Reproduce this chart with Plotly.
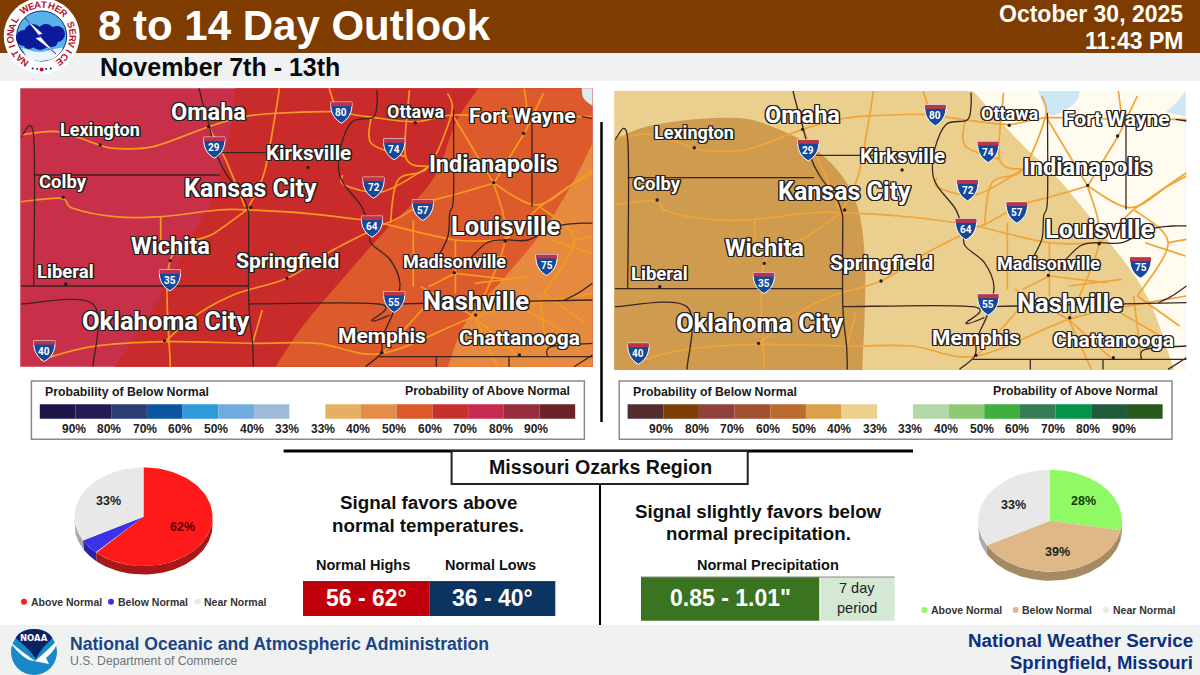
import math
import plotly.graph_objects as go

# ---------- data ----------
TITLE = "8 to 14 Day Outlook"
SUBTITLE = "November 7th - 13th"
DATE_LINES = ["October 30, 2025", "11:43 PM"]
PIE_LABELS = ["Above Normal", "Below Normal", "Near Normal"]
TEMP_SHARES = [62, 5, 33]
PRECIP_SHARES = [28, 39, 33]
SCALE_TICKS = ["90%", "80%", "70%", "60%", "50%", "40%", "33%", "33%", "40%", "50%", "60%", "70%", "80%", "90%"]
TEMP_SCALE = ["#1c1648", "#241a55", "#2b3d73", "#0a56a0", "#319ad8", "#6fabdd", "#9dbcdc", "#ffffff",
              "#e5b063", "#e48c49", "#dd5a2d", "#c8302e", "#c92a50", "#972e3c", "#6b2228"]
PRECIP_SCALE = ["#532c2e", "#7d3f05", "#92403c", "#a15030", "#bb6a30", "#d9a24a", "#ecd08c", "#ffffff",
                "#b3d7a6", "#8ec975", "#3fae3c", "#357c55", "#05924b", "#1f5a3a", "#27591c"]
HIGHS = "56 - 62°"
LOWS = "36 - 40°"
PRECIP = '0.85 - 1.01"'

FONT = "Liberation Sans"
shapes, notes = [], []
fig = go.Figure()


def X3(z): return z / 2.613
def Y3(z): return 80 + z / 3


def text(x, y, s, size, color="#111", bold=True, anchor="center", family=FONT, angle=0, shadow=None):
    f = dict(family=family, size=size, color=color, weight=700 if bold else 400)
    if shadow:
        f["shadow"] = shadow
    notes.append(dict(x=x, y=y, xref="x", yref="y", text=s, showarrow=False, xanchor=anchor,
                      yanchor="middle", font=f, textangle=angle, borderpad=0, borderwidth=0))


def rect(x0, y0, x1, y1, fill=None, line=None, w=1):
    shapes.append(dict(type="rect", x0=x0, y0=y0, x1=x1, y1=y1, xref="x", yref="y",
                       fillcolor=fill or "rgba(0,0,0,0)", line=dict(color=line or "rgba(0,0,0,0)", width=w if line else 0)))


def line(x0, y0, x1, y1, color="#000", w=2):
    shapes.append(dict(type="line", x0=x0, y0=y0, x1=x1, y1=y1, xref="x", yref="y", line=dict(color=color, width=w)))


def circle(cx, cy, r, fill, ln=None, w=1):
    rx = r
    shapes.append(dict(type="circle", x0=cx - rx, x1=cx + rx, y0=cy - r, y1=cy + r, xref="x", yref="y",
                       fillcolor=fill, line=dict(color=ln or "rgba(0,0,0,0)", width=w if ln else 0)))


def path(d, fill=None, ln=None, w=1):
    shapes.append(dict(type="path", path=d, xref="x", yref="y", fillcolor=fill or "rgba(0,0,0,0)",
                       line=dict(color=ln or "rgba(0,0,0,0)", width=w if ln else 0)))


def smooth(pts, start=True):
    d = f"M{pts[0][0]:.1f},{pts[0][1]:.1f}" if start else f"L{pts[0][0]:.1f},{pts[0][1]:.1f}"
    n = len(pts)
    for i in range(n - 1):
        p0, p1, p2, p3 = pts[max(i - 1, 0)], pts[i], pts[i + 1], pts[min(i + 2, n - 1)]
        c1 = (p1[0] + (p2[0] - p0[0]) / 6, p1[1] + (p2[1] - p0[1]) / 6)
        c2 = (p2[0] - (p3[0] - p1[0]) / 6, p2[1] - (p3[1] - p1[1]) / 6)
        d += f"C{c1[0]:.1f},{c1[1]:.1f} {c2[0]:.1f},{c2[1]:.1f} {p2[0]:.1f},{p2[1]:.1f}"
    return d


# ---------- page frame ----------
rect(0, 53, 1200, 81, "#f0f1f2")
rect(0, 0, 1200, 53, "#7e3c00")
rect(0, 625, 1200, 675, "#f0f2f2")

# ---------- map features (shared by both panels) ----------
BORDERS = [
    [(55, 170), (88, 170), (88, 618)], [(88, 285), (575, 285)], [(55, 618), (650, 618)],
    [(650, 400), (650, 672), (660, 790), (662, 860)], [(650, 672), (990, 672), (972, 722), (1020, 705)],
    [(55, 672), (243, 672), (243, 860)], [(520, 25), (530, 70), (545, 130), (565, 220), (590, 280), (635, 350), (650, 400)],
    [(580, 218), (885, 218)],
    [(985, 30), (985, 70), (975, 112), (920, 125), (890, 200), (885, 270), (900, 315), (945, 380), (965, 450),
     (970, 490), (1020, 540), (1045, 610), (1030, 690), (1000, 770), (995, 820), (955, 860)],
    [(1185, 90), (1185, 350), (1175, 400), (1170, 470), (1140, 540)],
    [(1140, 540), (1200, 560), (1270, 490), (1320, 480), (1380, 480), (1450, 440), (1510, 430), (1548, 430)],
    [(1390, 120), (1390, 380)], [(1030, 672), (1300, 665), (1548, 660)],
    [(990, 830), (1548, 830)], [(1140, 830), (1140, 860)], [(1330, 830), (1330, 860)],
    [(1475, 660), (1510, 640), (1548, 610)], [(1430, 830), (1440, 800), (1548, 790)], [(1500, 860), (1548, 825)],
    [(1520, 110), (1548, 115)],
]
ROADS = [
    [(55, 165), (150, 155), (260, 195), (300, 205), (400, 200), (545, 140), (640, 110), (720, 100), (860, 95),
     (960, 110), (1085, 125), (1185, 105), (1380, 110), (1548, 110)],
    [(55, 365), (160, 355), (190, 385), (300, 410), (420, 410), (570, 390), (650, 390), (800, 400), (950, 420),
     (1010, 430), (1110, 370), (1200, 340), (1290, 310)],
    [(1290, 310), (1400, 375), (1500, 310), (1548, 280)],
    [(650, 385), (560, 460), (445, 540), (445, 860)], [(420, 410), (420, 480)],
    [(105, 840), (240, 800), (430, 785), (660, 790), (830, 790), (1000, 820), (1240, 710), (1400, 670), (1548, 640)],
    [(990, 440), (870, 510), (750, 595), (620, 640), (520, 700), (430, 785)],
    [(1080, 420), (1080, 620)], [(1170, 40), (1180, 100), (1120, 260), (1040, 300), (1020, 430)],
    [(545, 140), (590, 240), (640, 380)], [(1290, 310), (1320, 480), (1240, 710)], [(1370, 160), (1290, 310)],
    [(1410, 380), (1320, 480)], [(730, 25), (720, 100), (690, 280), (650, 380)],
    [(1000, 430), (1190, 480), (1320, 480)], [(1190, 580), (1120, 620)], [(1190, 580), (1340, 600)],
    [(1410, 380), (1500, 480), (1420, 640)], [(1370, 160), (1420, 40)], [(1180, 100), (1290, 310)],
    [(1070, 30), (1060, 230), (1120, 260)], [(970, 110), (970, 190), (1060, 230)],
    [(1410, 380), (1548, 270)], [(1240, 710), (1350, 825)], [(1410, 640), (1430, 830)],
    [(1000, 820), (1110, 680)], [(660, 790), (685, 690)], [(895, 285), (900, 315), (1000, 335), (1120, 260)],
    [(1190, 480), (1190, 640)], [(1090, 540), (1320, 530)],
    [(1500, 480), (1548, 470)], [(1240, 710), (1300, 860)], [(1420, 640), (1530, 730)], [(1240, 610), (1380, 590)],
    [(860, 25), (880, 95)], [(1370, 25), (1380, 110)], [(1100, 620), (1240, 710)], [(1300, 640), (1480, 760)],
    [(1440, 480), (1545, 520)],
]
DOTS = [(545, 140), (262, 195), (1085, 128), (1368, 160), (805, 262), (1290, 308), (165, 352), (655, 382), (1320, 483),
        (445, 542), (750, 595), (1187, 578), (172, 612), (430, 782), (1243, 705), (998, 818), (1357, 825)]
SHIELDS = [("80", 892, 95), ("29", 560, 200), ("74", 1030, 205), ("72", 976, 320), ("57", 1105, 387), ("64", 972, 437),
           ("35", 444, 598), ("75", 1428, 552), ("55", 1030, 663), ("40", 116, 810)]
CITIES = [("Omaha", 545, 97, 23.5), ("Lexington", 262, 148, 18), ("Fort Wayne", 1365, 108, 21), ("Ottawa", 1085, 93, 18),
          ("Kirksville", 805, 220, 20.5), ("Indianapolis", 1290, 253, 23.5), ("Kansas City", 655, 325, 25), ("Colby", 165, 305, 18.5),
          ("Louisville", 1320, 438, 25.5), ("Wichita", 445, 497, 23.5), ("Springfield", 750, 542, 21), ("Madisonville", 1187, 543, 18),
          ("Liberal", 172, 575, 18.5), ("Oklahoma City", 432, 722, 25.5), ("Nashville", 1243, 662, 25.5), ("Memphis", 998, 767, 21),
          ("Chattanooga", 1357, 773, 21)]
_s = [(a, b) for a in (-1.2, 0, 1.2) for b in (-1.2, 0, 1.2) if a or b]
HALO = ",".join(f"{a}px {b}px 0.6px #26211f" for a, b in _s)


def features(dx, dy, road):
    tr = lambda p: (X3(p[0]) + dx, Y3(p[1]) + dy)
    for r in ROADS:
        path(smooth([tr(p) for p in r]), ln=road, w=1.7)
    for b in BORDERS:
        path("M" + "L".join(f"{tr(p)[0]:.1f},{tr(p)[1]:.1f}" for p in b) if len(b) == 2 else smooth([tr(p) for p in b]),
             ln="#3a2420", w=1.3)
    for p in DOTS:
        q = tr(p)
        circle(q[0], q[1], 1.7, "#221a18")
    for lab, zx, zy in SHIELDS:
        cx, cy = tr((zx, zy))
        w, h = 10.5, 11.5
        body = (f"M{cx-w},{cy-h+2}L{cx+w},{cy-h+2}C{cx+w+1},{cy+2} {cx+6},{cy+8} {cx},{cy+h}"
                f"C{cx-6},{cy+8} {cx-w-1},{cy+2} {cx-w},{cy-h+2}Z")
        path(body, "#14489a", "#ffffff", 1)
        path(f"M{cx-w},{cy-h+2}L{cx+w},{cy-h+2}L{cx+w},{cy-h+6}L{cx-w},{cy-h+6}Z", "#b8354a")
        text(cx, cy + 1, lab, 10, "#ffffff", family="Roboto")
    for name, zx, zy, sz in CITIES:
        q = tr((zx, zy))
        text(q[0], q[1], name, sz, "#ffffff", family="Roboto", shadow=HALO)


# ---------- temperature map ----------
def Z3(p): return (X3(p[0]), Y3(p[1]))
def Z4(p): return (600 + X3(p[0]), Y3(p[1]))


rect(X3(53), Y3(25), X3(1548), Y3(860), "#c8304a")
e1 = [(615, 25), (600, 170), (560, 340), (520, 430), (440, 600), (370, 740), (300, 860)]
path(smooth([Z3(p) for p in e1]) + "L%.1f,%.1fL%.1f,%.1fZ" % (X3(1548), Y3(860), X3(1548), Y3(25)), "#c92b2b")
e2 = [(1250, 25), (1190, 130), (1130, 300), (1000, 460), (900, 590), (790, 740), (720, 860)]
path(smooth([Z3(p) for p in e2]) + "L%.1f,%.1fL%.1f,%.1fZ" % (X3(1548), Y3(860), X3(1548), Y3(25)), "#dc5a2c")
e3 = [(1548, 190), (1500, 300), (1420, 450), (1320, 590), (1220, 720), (1170, 860)]
path(smooth([Z3(p) for p in e3]) + "L%.1f,%.1fZ" % (X3(1548), Y3(860)), "#e58a3e")
path(smooth([Z3(p) for p in [(1520, 25), (1525, 55), (1548, 78)]]) + "L%.1f,%.1fZ" % (X3(1548), Y3(25)), "#dcecf4")
features(0, 0, "#f59a1f")

# ---------- precipitation map ----------
rect(600 + X3(37), Y3(33), 600 + X3(1530), Y3(870), "#ebcf8f")
blob = [(37, 180), (120, 140), (250, 118), (370, 115), (450, 140), (540, 190), (620, 270), (670, 370), (690, 500), (693, 650), (685, 870)]
path(smooth([Z4(p) for p in blob]) + "L%.1f,%.1fZ" % (600 + X3(37), Y3(870)), "#cf9b4e")
dry = [(975, 33), (1100, 190), (1200, 300), (1320, 470), (1430, 650), (1500, 870)]
path(smooth([Z4(p) for p in dry]) + "L%.1f,%.1fL%.1f,%.1fZ" % (600 + X3(1530), Y3(870), 600 + X3(1530), Y3(33)), "#fffbef")
path(smooth([Z4(p) for p in [(1145, 33), (1165, 90), (1190, 105), (1240, 70), (1255, 33)]]) + "Z", "#cde8f4")
path(smooth([Z4(p) for p in [(1480, 95), (1505, 70), (1530, 33)]]) + "L%.1f,%.1fZ" % (600 + X3(1530), Y3(110)), "#cde8f4")
features(594, 2.7, "#f0a43a")
line(601.5, 122, 601.5, 422, "#000", 2.5)


# ---------- probability scales ----------
def scale(box_x0, box_x1, bar_x0, bar_x1, first, colors, left_x, right_x):
    rect(box_x0, 381, box_x1, 439.3, "#ffffff", "#8a8a8a", 1.5)
    step = (bar_x1 - bar_x0) / len(colors)
    for i, c in enumerate(colors):
        rect(bar_x0 + i * step, 404.3, bar_x0 + (i + 1) * step, 418.7, c)
    for i, t in enumerate(SCALE_TICKS):
        text(first + i * 35.6, 429, t, 12, "#222")
    text(left_x, 392, "Probability of Below Normal", 12.3, "#1a1a1a", anchor="left")
    text(right_x, 391, "Probability of Above Normal", 12.3, "#1a1a1a", anchor="right")


scale(31.4, 584.4, 39.8, 575.2, 73.5, TEMP_SCALE, 45, 569.5)
scale(619.2, 1172, 627.6, 1162.6, 661.2, PRECIP_SCALE, 633, 1157.5)

# ---------- centre panel ----------
line(283.6, 451, 913, 451, "#000", 3)
line(600, 484, 600, 625, "#000", 2)
rect(451.6, 451, 747.7, 484, "#ffffff", "#222", 2)
text(600, 467, "Missouri Ozarks Region", 19.6)
text(428, 502, "Signal favors above", 18.8)
text(428, 525, "normal temperatures.", 18.8)
text(758, 511, "Signal slightly favors below", 18.7)
text(758, 533, "normal precipitation.", 18.7)
text(363, 565, "Normal Highs", 14.5)
text(490, 565, "Normal Lows", 14.5)
text(767.6, 565, "Normal Precipitation", 14.5)
rect(303, 581.7, 429.8, 616, "#c2000b")
rect(429.8, 581.7, 555.3, 616, "#0c3460")
line(303, 581.7, 555.3, 581.7, "#222", 1)
text(366, 597.5, HIGHS, 23, "#ffffff")
text(492, 597.5, LOWS, 23, "#ffffff")
rect(641, 577, 819.3, 620.7, "#3a7420")
rect(820.5, 577, 894.7, 620.7, "#d5e8d4")
line(641, 577, 894.7, 577, "#888", 1)
text(730, 598, PRECIP, 23, "#ffffff")
text(856.5, 588, "7 day", 14.5, "#222", bold=False)
text(856.5, 608, "period", 14.5, "#222", bold=False)


# ---------- tilted pies built from the shares ----------
def add_pie(shares, names, cx, cy, rx, ry, depth, tops, sides):
    pt = lambda a, d=0: (cx + rx * math.sin(math.radians(a)), cy - ry * math.cos(math.radians(a)) + d)
    total = sum(shares)
    a0 = 0
    spans = []
    for v in shares:
        a1 = a0 + 360 * v / total
        spans.append((a0, a1))
        a0 = a1
    for (s, e), c, n in zip(spans, sides, names):
        lo, hi = max(s, 90), min(e, 270)
        if hi <= lo:
            continue
        arc = [lo + (hi - lo) * k / 60 for k in range(61)]
        poly = [pt(a) for a in arc] + [pt(a, depth) for a in reversed(arc)]
        fig.add_trace(go.Scatter(x=[p[0] for p in poly], y=[p[1] for p in poly], mode="lines", fill="toself",
                                 fillcolor=c, line=dict(width=0, color=c), hoverinfo="skip", showlegend=False))
    for (s, e), c, n in zip(spans, tops, names):
        arc = [s + (e - s) * k / 90 for k in range(91)]
        poly = [(cx, cy)] + [pt(a) for a in arc] + [(cx, cy)]
        fig.add_trace(go.Scatter(x=[p[0] for p in poly], y=[p[1] for p in poly], mode="lines", fill="toself",
                                 fillcolor=c, line=dict(width=0, color=c), name=n, hoverinfo="name", showlegend=False))


add_pie(TEMP_SHARES, PIE_LABELS, 143.5, 516.7, 69, 49.3, 8.5,
        ["#ff1a1a", "#3a33e8", "#e8e8e8"], ["#a81818", "#2a22a8", "#a9a9ae"])
add_pie(PRECIP_SHARES, PIE_LABELS, 1050, 520.7, 72, 51, 9,
        ["#8ffa66", "#deb887", "#e8e8e8"], ["#6fb04f", "#a68a63", "#a9a9ae"])
text(182, 527, f"{TEMP_SHARES[0]}%", 12.5, "#5a0505")
text(108, 501, f"{TEMP_SHARES[2]}%", 12.5, "#222")
text(1083, 501, f"{PRECIP_SHARES[0]}%", 12.5, "#123b05")
text(1057, 552, f"{PRECIP_SHARES[1]}%", 12.5, "#222")
text(1013, 505, f"{PRECIP_SHARES[2]}%", 12.5, "#222")


def pie_legend(y, dots, cols):
    fig.add_trace(go.Scatter(x=dots, y=[y] * 3, mode="markers", marker=dict(size=6, color=cols, line=dict(width=0)),
                             hoverinfo="skip", showlegend=False))
    for x, n in zip(dots, PIE_LABELS):
        text(x + 6.6, y, n, 10.5, "#333", anchor="left")


pie_legend(601.7, [24, 111, 197.5], ["#ff1a1a", "#3a33e8", "#e8e8e8"])
pie_legend(610, [924.5, 1015.6, 1106], ["#8ffa66", "#deb887", "#e8e8e8"])

# ---------- header ----------
text(98, 25, TITLE, 42, "#ffffff", anchor="left")
text(100, 67, SUBTITLE, 25, "#0a0a0a", anchor="left")
text(1183, 14, DATE_LINES[0], 23, "#ffffff", anchor="right")
text(1183, 41, DATE_LINES[1], 23, "#ffffff", anchor="right")

# NWS seal
LX, LY = 41.7, 36
circle(LX, LY, 38, "#ffffff")
circle(LX, LY, 25, "#58b4e6", "#0b2a88", 1)
path(smooth([(22, 48), (40, 52), (62, 48), (54, 58), (40, 61), (28, 58), (22, 48)]), "#eaf6fc")
for c in [(24, 38, 8), (33, 33, 9), (46, 32, 8), (57, 34, 8), (40, 40, 10), (29, 43, 6), (52, 41, 6)]:
    circle(c[0], c[1], c[2], "#0a1a9a")
path("M25,18L43,34L39,35L56,54L35,38L40,37Z", "#ffffff", "#0a1a9a", 0.6)
ring = "NATIONAL WEATHER SERVICE"
for i, ch in enumerate(ring):
    a = 212 + i * 293 / (len(ring) - 1)
    r = math.radians(a)
    ang = ((a + 180) % 360) - 180
    text(LX + 31.5 * math.sin(r), LY - 31.5 * math.cos(r), ch, 9.5, "#b5122a", angle=ang)
for dx_, col, sz in [(-9, "#0b2a88", 1), (-4.5, "#0b2a88", 1), (0, "#c8102e", 2), (4.5, "#0b2a88", 1), (9, "#0b2a88", 1)]:
    circle(LX + dx_, 69.5 + abs(dx_) * -0.1, sz, col)

# ---------- footer ----------
circle(34, 652, 23, "#1a87c8")
path("M15.5,638C19,632 26,629 34,629C42,629 49,632 52.5,638C47,643 40,650 36,659C30,650 22,643 15.5,638Z", "#0b2265")
path("M10.5,642C17,648 27,655 35,661C42,655 50,648 57.5,640C57,647 52,653 46,658L49,664L29,660C22,656 15,650 10.5,642Z", "#ffffff")
text(34, 638, "NOAA", 8.5, "#ffffff", family="DejaVu Sans")
text(70, 644, "National Oceanic and Atmospheric Administration", 17.6, "#1b4586", anchor="left")
text(70, 661, "U.S. Department of Commerce", 12.2, "#6d7378", bold=False, anchor="left")
text(1193, 640, "National Weather Service", 18.8, "#0d2f7f", anchor="right")
text(1193, 662, "Springfield, Missouri", 18.5, "#0d2f7f", anchor="right")

fig.update_layout(
    width=1200, height=675, margin=dict(l=0, r=0, t=0, b=0), autosize=False,
    paper_bgcolor="#ffffff", plot_bgcolor="#ffffff", showlegend=False,
    xaxis=dict(range=[0, 1200], visible=False, fixedrange=True),
    yaxis=dict(range=[675, 0], visible=False, fixedrange=True),
    shapes=shapes, annotations=notes,
)
fig.write_html("out.html", config={"displayModeBar": False},
               post_script="document.body.style.margin='0';document.body.style.overflow='hidden';")
